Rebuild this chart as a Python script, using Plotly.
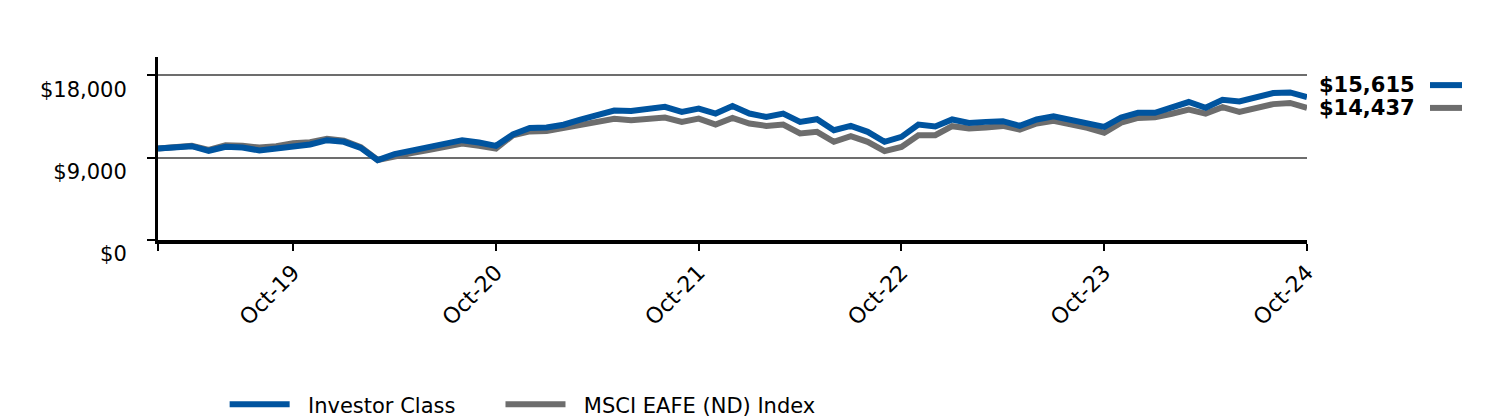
import plotly.graph_objects as go

months = [f"{y}-{m:02d}" for y in range(2019, 2025) for m in range(1, 13)]
months = [m for m in months if "2019-02" <= m <= "2024-10"]

investor_class = [
    10000, 10050, 10250, 9750, 10180, 10110, 9780, 10000, 10290, 10440,
    10910, 10730, 10070, 8730, 9380, 9750, 10150, 10550, 10910, 10660,
    10290, 11530, 12250, 12300, 12600, 13150, 13700, 14150, 14110, 14300,
    14550, 14000, 14360, 13820, 14650, 13820, 13450, 13820, 12910, 13200,
    12000, 12470, 11820, 10730, 11270, 12620, 12400, 13170, 12800, 12910,
    12980, 12470, 13170, 13530, 13090, 12730, 12360, 13390, 13900, 13900,
    14450, 15080, 14450, 15330, 15150, 15580, 16060, 16130, 15615,
]
msci_eafe = [
    10000, 10080, 10300, 9850, 10350, 10300, 10100, 10250, 10580, 10680,
    11050, 10850, 10150, 8750, 9200, 9500, 9820, 10150, 10550, 10300,
    9990, 11440, 11870, 11900, 12250, 12600, 12950, 13250, 13090, 13200,
    13390, 12910, 13270, 12620, 13350, 12730, 12470, 12620, 11640, 11820,
    10730, 11350, 10730, 9710, 10180, 11450, 11450, 12440, 12180, 12290,
    12470, 12070, 12730, 13020, 12650, 12250, 11710, 12830, 13340, 13420,
    13800, 14250, 13820, 14510, 14000, 14400, 14850, 14980, 14437,
]

series_names = ["Investor Class", "MSCI EAFE (ND) Index"]
series_colors = ["#00549F", "#6D6D6D"]
legend_pad_after = ["&nbsp;" * 6, ""]
end_labels = ["$15,615", "$14,437"]
end_label_shift = [12, 0]

tick_months = ["2019-02", "2019-10", "2020-10", "2021-10", "2022-10", "2023-10", "2024-10"]
tick_labels = ["", "Oct-19", "Oct-20", "Oct-21", "Oct-22", "Oct-23", "Oct-24"]
y_tickvals = [0, 9000, 18000]
y_ticktext = ["$0", "$9,000", "$18,000"]

FONT = "Verdana, DejaVu Sans, sans-serif"
FS = 21

fig = go.Figure()
for idx in (1, 0):
    vals = msci_eafe if idx == 1 else investor_class
    fig.add_trace(go.Scatter(x=months, y=vals, mode="lines",
                             name="&nbsp;&nbsp;" + series_names[idx] + legend_pad_after[idx],
                             line=dict(color=series_colors[idx], width=6), hoverinfo="skip"))

# end value labels with short swatches
for vals, col, lab, sh in [(investor_class, series_colors[0], end_labels[0], end_label_shift[0]),
                           (msci_eafe, series_colors[1], end_labels[1], end_label_shift[1])]:
    fig.add_annotation(x=1, xref="paper", y=vals[-1], yref="y", text=f"<b>{lab}</b>",
                       showarrow=False, xanchor="left", yanchor="middle", xshift=10, yshift=sh,
                       font=dict(family=FONT, size=FS, color="black"))
    fig.add_shape(type="line", xref="paper", xsizemode="pixel", xanchor=1, x0=123, x1=155,
                  yref="y", ysizemode="pixel", yanchor=vals[-1], y0=sh, y1=sh,
                  line=dict(color=col, width=6))

fig.update_layout(
    width=1500, height=420,
    margin=dict(l=158, r=193, t=57, b=180, pad=0, autoexpand=False),
    paper_bgcolor="white", plot_bgcolor="white",
    font=dict(family=FONT, size=FS, color="black"),
    showlegend=True,
    legend=dict(orientation="h", x=0.058, xanchor="left", y=-0.9, yanchor="middle",
                traceorder="reversed",
                font=dict(family=FONT, size=FS, color="black"), itemwidth=60),
)
fig.update_xaxes(type="category", categoryorder="array", categoryarray=months,
                 range=[0, len(months) - 1], automargin=False,
                 tickmode="array", tickvals=tick_months, ticktext=tick_labels,
                 tickangle=-45, showline=True, linecolor="black", linewidth=4,
                 ticks="outside", ticklen=7, tickwidth=1.5, tickcolor="black",
                 showgrid=False, zeroline=False,
                 tickfont=dict(family=FONT, size=22, color="black"))
fig.update_yaxes(range=[0, 20000], tickmode="array", tickvals=y_tickvals, ticktext=y_ticktext,
                 automargin=False,
                 showline=True, linecolor="black", linewidth=3,
                 ticks="outside", ticklen=8, tickwidth=2, tickcolor="black",
                 showgrid=True, gridcolor="#6D6D6D", gridwidth=1.5, zeroline=False,
                 ticklabelshift=14, ticklabelstandoff=16,
                 tickfont=dict(family=FONT, size=FS, color="black"))

fig.write_html("out.html")
